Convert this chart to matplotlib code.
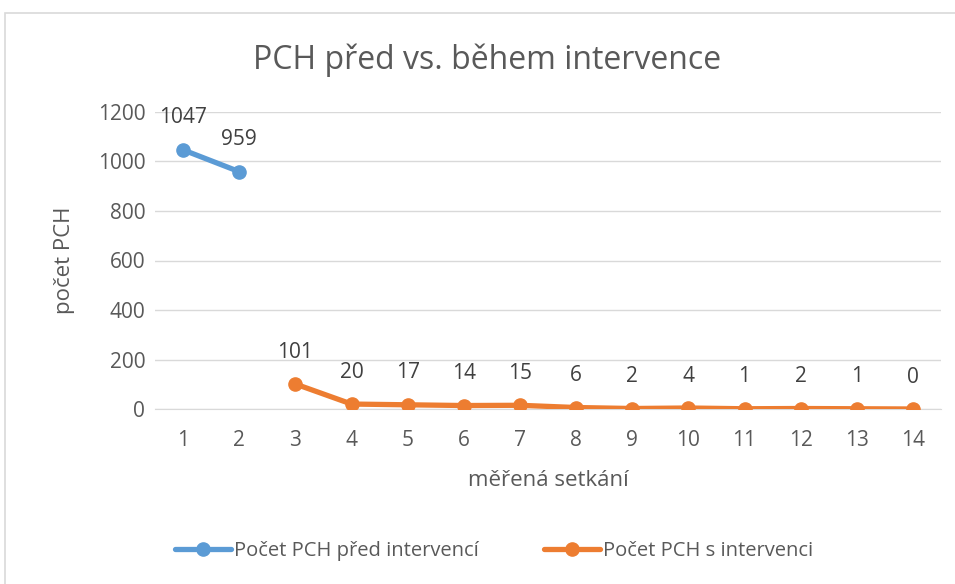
import matplotlib.pyplot as plt
from matplotlib.patches import Rectangle

plt.rcParams['font.family'] = ['Open Sans', 'DejaVu Sans']

x_before = [1, 2]
before = [1047, 959]
x_after = [3, 4, 5, 6, 7, 8, 9, 10, 11, 12, 13, 14]
after = [101, 20, 17, 14, 15, 6, 2, 4, 1, 2, 1, 0]
categories = list(range(1, 15))

blue = '#5B9BD5'
orange = '#ED7D31'
txt = '#595959'
grid = '#D9D9D9'

fig = plt.figure(figsize=(9.55, 5.84), dpi=100)
# chart border
fig.patches.append(Rectangle((5/955, -0.1), 1.1, 1 - 13/584 + 0.1, transform=fig.transFigure,
                             fill=False, edgecolor=grid, linewidth=1.2))

ax = fig.add_axes([155/955, 1 - 409/584, 786/955, 297/584])
ax.plot(x_before, before, color=blue, lw=3.8, marker='o', ms=9.5, label='Počet PCH před intervencí',
        solid_capstyle='round', zorder=3)
ax.plot(x_after, after, color=orange, lw=3.8, marker='o', ms=9.5, label='Počet PCH s intervenci',
        solid_capstyle='round', zorder=3)

for x, v in list(zip(x_before, before)) + list(zip(x_after, after)):
    ax.annotate(str(v), (x, v), xytext=(0, 23), textcoords='offset points',
                ha='center', va='center', fontsize=15, color='#404040')

ax.set_xlim(0.5, 14.5)
ax.set_ylim(0, 1200)
ax.set_yticks(range(0, 1201, 200))
ax.set_xticks(categories)
ax.yaxis.grid(True, color=grid, lw=1)
ax.set_axisbelow(True)
for s in ['top', 'right', 'left']:
    ax.spines[s].set_visible(False)
ax.spines['bottom'].set_color(grid)
ax.tick_params(length=0, labelsize=15, colors=txt)
ax.tick_params(axis='x', pad=15)
ax.tick_params(axis='y', pad=7)

ax.set_xlabel('měřená setkání', fontsize=16, color=txt, labelpad=14)
ax.set_ylabel('počet PCH', fontsize=16, color=txt, labelpad=16)
fig.text(487/955, 1 - 60/584, 'PCH před vs. během intervence', ha='center', va='center',
         fontsize=23, color=txt)

fig.legend(loc='center', bbox_to_anchor=(494/955, 1 - 551/584), ncol=2, frameon=False,
           fontsize=14.5, labelcolor=txt, handlelength=2.8, columnspacing=3.2, handletextpad=0.15)

fig.savefig('out.png', dpi=100)
